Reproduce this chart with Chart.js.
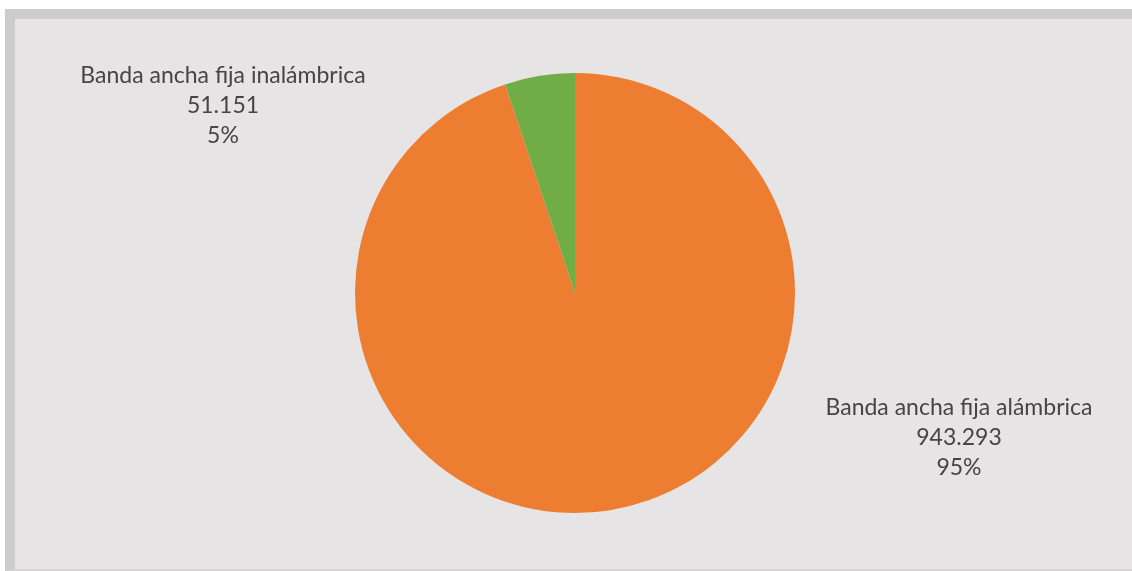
<!DOCTYPE html>
<html lang="es">
<head>
  <meta charset="UTF-8" />
  <title>Banda ancha fija</title>
  <script src="https://cdn.jsdelivr.net/npm/chart.js"></script>
  <style>
    html, body { margin: 0; padding: 0; background: #fff; }
    body { width: 1132px; height: 571px; position: relative; overflow: hidden; }
    .panel {
      position: absolute; left: 5px; top: 9px; right: 0; bottom: 0;
      background: #e6e4e4;
      border-top: 10px solid #cdcccc;
      border-left: 10px solid #cdcccc;
      border-bottom: 2px solid #d6d4d4;
      box-sizing: border-box;
    }
    #chart { position: absolute; left: 0; top: 0; }
  </style>
</head>
<body>
  <div class="panel"></div>
  <canvas id="chart" width="1132" height="571"></canvas>

  <script>
    // datos
    const categorias = ['Banda ancha fija alámbrica', 'Banda ancha fija inalámbrica'];
    const valores = [943293, 51151];
    const valoresTexto = ['943.293', '51.151'];
    const porcentajes = ['95%', '5%'];
    const colores = ['#ed7d31', '#70ad47'];

    // donde va cada etiqueta (desplazamiento desde el centro del pastel)
    const posEtiquetas = [
      { dx: 384, dy: 122 },
      { dx: -352, dy: -210 }
    ];

    const etiquetas = {
      id: 'etiquetas',
      afterDraw(chart) {
        const ctx = chart.ctx;
        const arc = chart.getDatasetMeta(0).data[0];
        ctx.save();
        ctx.fillStyle = '#454545';
        ctx.font = '23px Lato';
        ctx.textAlign = 'center';
        ctx.textBaseline = 'alphabetic';
        categorias.forEach((cat, i) => {
          const x = arc.x + posEtiquetas[i].dx;
          const y = arc.y + posEtiquetas[i].dy;
          [cat, valoresTexto[i], porcentajes[i]].forEach((t, j) => {
            ctx.fillText(t, x, y + j * 30);
          });
        });
        ctx.restore();
      }
    };

    new Chart(document.getElementById('chart'), {
      type: 'pie',
      data: {
        labels: categorias,
        datasets: [{
          data: valores,
          backgroundColor: colores,
          borderWidth: 0
        }]
      },
      options: {
        responsive: false,
        animation: false,
        layout: { padding: { left: 355, right: 337, top: 73, bottom: 58 } },
        plugins: {
          legend: { display: false },
          tooltip: { enabled: false }
        }
      },
      plugins: [etiquetas]
    });
  </script>
</body>
</html>
